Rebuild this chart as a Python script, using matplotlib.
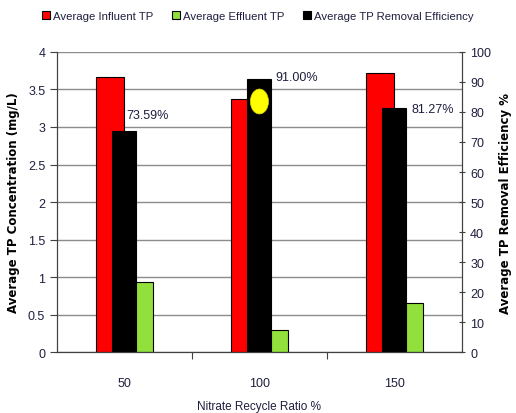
import matplotlib
matplotlib.use('Agg')
import matplotlib.pyplot as plt
from matplotlib.patches import Ellipse, Patch
import numpy as np

plt.rcParams['font.family'] = ['Liberation Sans', 'DejaVu Sans']

ratios = ['50', '100', '150']
influent_tp = [3.66, 3.37, 3.72]
effluent_tp = [0.93, 0.29, 0.65]
removal_eff = [73.59, 91.00, 81.27]

x = np.arange(len(ratios))
w = 0.21
wb = 0.178
grid_col = '#8c8c8c'
txt_col = '#1f1f3f'

fig = plt.figure(figsize=(5.16, 4.14), dpi=100)
ax1 = fig.add_axes([0.1105, 0.1473, 0.7845, 0.7247])
ax2 = ax1.twinx()

# primary axis: concentrations
ax1.bar(x - w / 2, influent_tp, w, color='#ff0000', edgecolor='black', linewidth=0.8)
ax1.bar(x + w / 2, effluent_tp, w, color='#92e03c', edgecolor='black', linewidth=0.8)
ax1.set_ylim(0, 4)
ax1.set_yticks(np.arange(0, 4.01, 0.5))
ax1.set_yticklabels(['0', '0.5', '1', '1.5', '2', '2.5', '3', '3.5', '4'])
ax1.set_xlim(-0.5, 2.5)
ax1.yaxis.grid(True, color=grid_col, linewidth=1.0)
ax1.set_axisbelow(True)

# secondary axis: removal efficiency
ax2.bar(x, removal_eff, wb, color='black', edgecolor='black', linewidth=0.8)
ax2.set_ylim(0, 100)
ax2.set_yticks(np.arange(0, 101, 10))

label_offsets = [(23, 16), (37, 2), (38, -1)]
for xi, v, off in zip(x, removal_eff, label_offsets):
    ax2.annotate(f'{v:.2f}%', xy=(xi, v), xytext=off, textcoords='offset pixels',
                 ha='center', va='center', fontsize=9, color=txt_col)

# yellow marker on the best result
best = int(np.argmax(removal_eff))
ax2.add_patch(Ellipse((x[best], removal_eff[best] - 7.5), 0.134, 8.3,
                      facecolor='#ffff00', edgecolor='#d8d800', linewidth=0.5, zorder=5))

# x axis: ticks between groups, labels at centres
ax1.set_xticks([0.5, 1.5])
ax1.set_xticklabels(['', ''])
ax1.set_xticks(x, minor=True)
ax1.set_xticklabels(ratios, minor=True)
ax1.tick_params(axis='x', which='major', length=5, color='#404040')
ax1.tick_params(axis='x', which='minor', length=0, pad=18, labelsize=9, labelcolor=txt_col)
ax1.tick_params(axis='y', length=5, color='#404040', labelsize=9, labelcolor=txt_col)
ax2.tick_params(axis='y', direction='inout', length=5, color='#404040', labelsize=9, labelcolor=txt_col)

for ax in (ax1, ax2):
    ax.spines['top'].set_visible(False)
    for s in ('left', 'right', 'bottom'):
        ax.spines[s].set_color('#404040')

ax1.set_xlabel('Nitrate Recycle Ratio %', fontsize=8.5, color=txt_col, labelpad=8)
ax1.set_ylabel('Average TP Concentration (mg/L)', fontsize=8.5, fontweight='bold',
               family='DejaVu Sans', labelpad=6)
ax2.set_ylabel('Average TP Removal Efficiency %', fontsize=8.5, fontweight='bold',
               family='DejaVu Sans', labelpad=6)

handles = [Patch(facecolor='#ff0000', edgecolor='black', linewidth=0.8),
           Patch(facecolor='#92e03c', edgecolor='black', linewidth=0.8),
           Patch(facecolor='black', edgecolor='black', linewidth=0.8)]
labels = ['Average Influent TP', 'Average Effluent TP', 'Average TP Removal Efficiency']
fig.legend(handles, labels, loc='upper center', bbox_to_anchor=(0.5, 0.995), ncol=3,
           frameon=False, fontsize=8.2, handlelength=0.7, handleheight=0.7,
           handletextpad=0.3, columnspacing=1.6, labelcolor=txt_col)

fig.savefig('out.png', dpi=100)
